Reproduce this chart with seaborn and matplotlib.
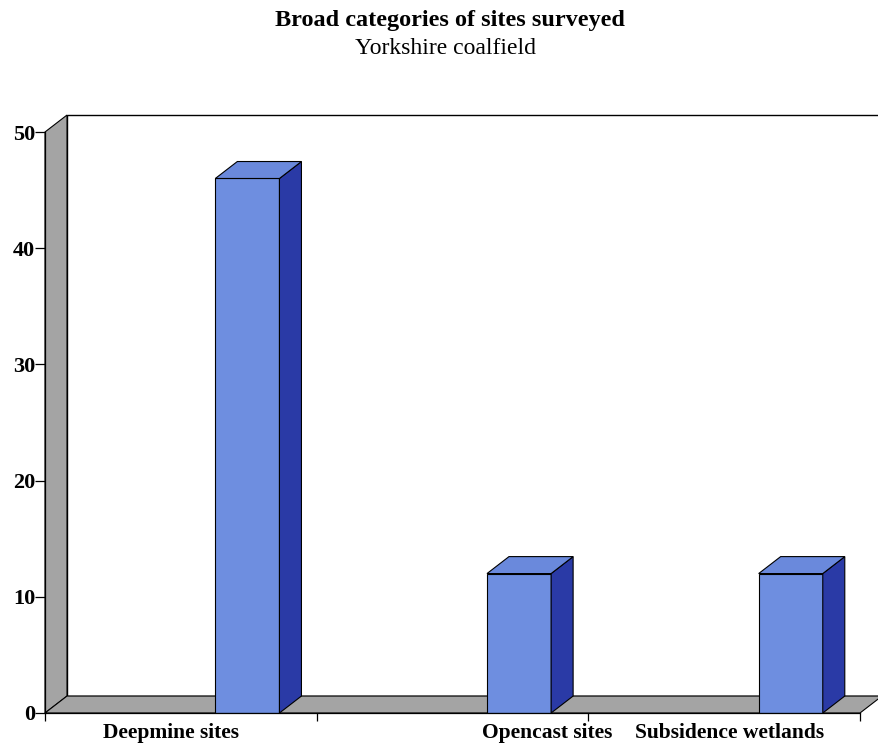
import matplotlib
matplotlib.use("Agg")
import matplotlib.pyplot as plt
from matplotlib.patches import Polygon
import seaborn as sns
import pandas as pd

# Survey counts by broad site category
categories = ["Deepmine sites", "Opencast sites", "Subsidence wetlands"]
site_counts = [46, 12, 12]
y_ticks = [0, 10, 20, 30, 40, 50]

sns.set_theme(style="white")
plt.rcParams["font.family"] = ["Liberation Serif", "DejaVu Serif"]
plt.rcParams["text.color"] = "black"
plt.rcParams["xtick.color"] = "black"
plt.rcParams["ytick.color"] = "black"

FRONT = "#6e8ee0"
SIDE = "#2a3aa6"
TOP = "#6a89dc"
WALL = "#a4a4a4"

fig = plt.figure(figsize=(8.79, 7.44), dpi=100)
fig.patch.set_facecolor("white")
ax = fig.add_axes([45 / 879, 31 / 744, 815 / 879, 581 / 744])
ax.set_xlim(-0.5, 2.5)
ax.set_ylim(0, 50)
ax.patch.set_alpha(0)

# depth of the pseudo-3D box, in data units
DX = 0.081
DY = 1.46
BAR_SHIFT = 0.245
BAR_W = 0.236

df = pd.DataFrame({"category": categories, "count": site_counts})
sns.barplot(data=df, x="category", y="count", ax=ax, color=FRONT,
            saturation=1, width=BAR_W, edgecolor="black", linewidth=0.8,
            zorder=3)
bars = list(ax.patches)

x_lo, x_hi = ax.get_xlim()
y_lo, y_hi = ax.get_ylim()

# back wall, side wall and floor
ax.add_patch(Polygon([(x_lo + DX, y_lo + DY), (x_hi + DX, y_lo + DY),
                      (x_hi + DX, y_hi + DY), (x_lo + DX, y_hi + DY)],
                     closed=True, facecolor="white", edgecolor="black",
                     linewidth=1.0, zorder=0.5, clip_on=False))
ax.add_patch(Polygon([(x_lo, y_lo), (x_lo, y_hi), (x_lo + DX, y_hi + DY),
                      (x_lo + DX, y_lo + DY)],
                     closed=True, facecolor=WALL, edgecolor="black",
                     linewidth=0.8, zorder=1, clip_on=False))
ax.add_patch(Polygon([(x_lo, y_lo), (x_hi, y_lo), (x_hi + DX, y_lo + DY),
                      (x_lo + DX, y_lo + DY)],
                     closed=True, facecolor=WALL, edgecolor="black",
                     linewidth=0.8, zorder=1, clip_on=False))

# shift each column back onto the floor and give it a side and a top
for p in bars:
    x0 = p.get_x() + BAR_SHIFT
    p.set_x(x0)
    w = p.get_width()
    h = p.get_height()
    ax.add_patch(Polygon([(x0 + w, 0), (x0 + w, h), (x0 + w + DX, h + DY),
                          (x0 + w + DX, DY)],
                         closed=True, facecolor=SIDE, edgecolor="black",
                         linewidth=0.8, zorder=3, clip_on=False))
    ax.add_patch(Polygon([(x0, h), (x0 + w, h), (x0 + w + DX, h + DY),
                          (x0 + DX, h + DY)],
                         closed=True, facecolor=TOP, edgecolor="black",
                         linewidth=0.8, zorder=3, clip_on=False))

for s in ["top", "right"]:
    ax.spines[s].set_visible(False)
for s in ["left", "bottom"]:
    ax.spines[s].set_visible(True)
    ax.spines[s].set_color("black")
    ax.spines[s].set_linewidth(0.9)
    ax.spines[s].set_zorder(4)

ax.set_yticks(y_ticks)
ax.set_yticklabels([str(v) for v in y_ticks], fontsize=16, fontweight="bold")
ax.tick_params(axis="y", direction="out", length=7, width=0.9, pad=0,
               left=True, color="black", labelcolor="black")

ax.set_xticks([-0.5, 0.5, 1.5, 2.5])
ax.set_xticklabels([])
ax.tick_params(axis="x", direction="out", length=5.5, width=0.9,
               bottom=True, color="black")
ax.set_xlabel("")
ax.set_ylabel("")

label_x = [-0.035, 1.35, 2.02]
for xp, lab in zip(label_x, categories):
    ax.annotate(lab, xy=(xp, 0), xycoords="data", xytext=(0, -18),
                textcoords="offset points", ha="center", va="baseline",
                fontsize=15.5, fontweight="bold", color="black")

fig.text(0.512, 0.973, "Broad categories of sites surveyed", ha="center",
         va="center", fontsize=17.5, fontweight="bold", color="black")
fig.text(0.507, 0.935, "Yorkshire coalfield", ha="center", va="center",
         fontsize=17, color="black")

fig.savefig("out.png", dpi=100, facecolor="white")
